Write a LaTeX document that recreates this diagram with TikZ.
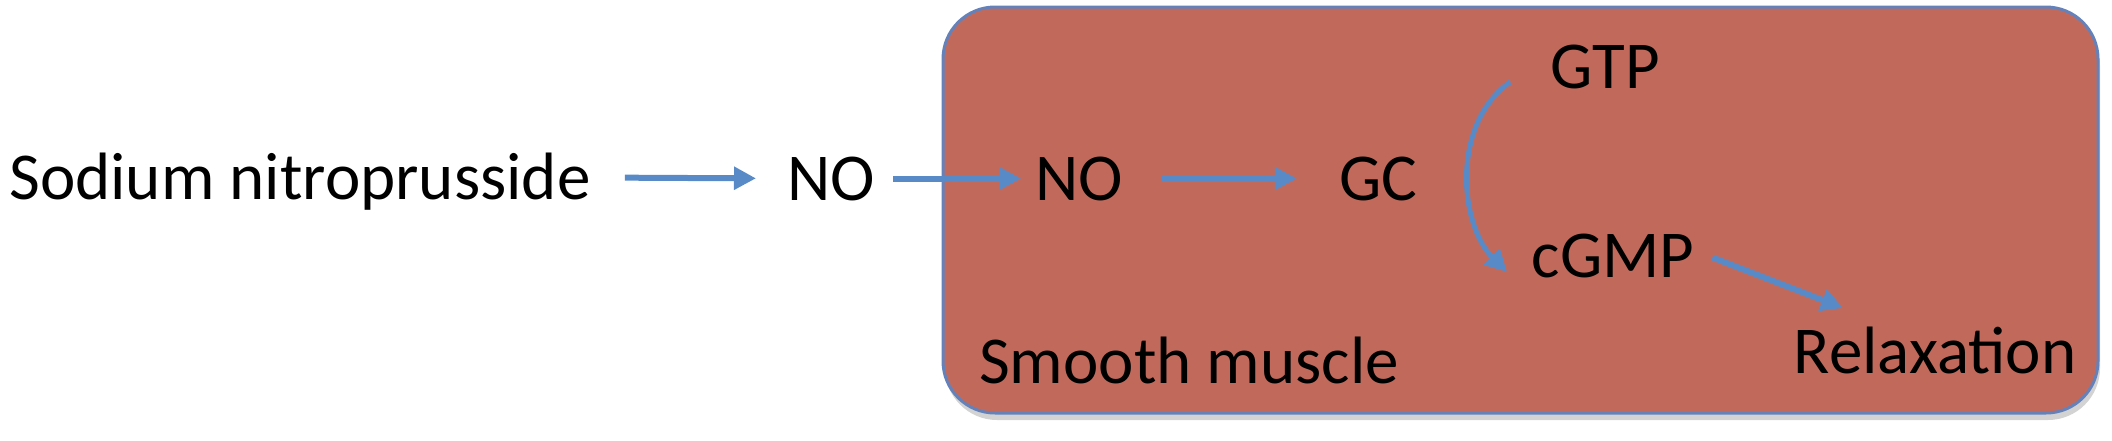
\documentclass[tikz,border=0pt]{standalone}
\usepackage{fontspec}
\setmainfont{Carlito}
\usetikzlibrary{arrows.meta,shadows,calc}
\definecolor{boxfill}{RGB}{193,106,91}
\definecolor{boxline}{RGB}{100,130,185}
\definecolor{arr}{RGB}{88,138,200}
\begin{document}
\begin{tikzpicture}[x=1pt,y=-1pt,
  lbl/.style={font=\fontsize{67pt}{80pt}\selectfont, inner sep=0pt, text height=43pt, text depth=0pt, anchor=base},
  flow/.style={draw=arr, line width=6pt, -{Triangle[length=22pt,width=22pt]}},
  cellbox/.style={fill=boxfill, draw=boxline, line width=3pt, rounded corners=52pt, inner sep=0pt,
    drop shadow={shadow xshift=2pt, shadow yshift=-7pt, opacity=0.35}}]
\useasboundingbox (0,0) rectangle (2112,440);
\node[cellbox, minimum width=1155pt, minimum height=406pt] (cell) at (1520.5,210) {};
\node[lbl] (sn) at (300,199) {Sodium nitroprusside};
\node[lbl] (no1) at (831,200) {NO};
\node[lbl] (no2) at (1079,200) {NO};
\node[lbl] (gc) at (1378,200) {GC};
\node[lbl] (gtp) at (1605,88) {GTP};
\node[lbl] (cgmp) at (1613,277) {cGMP};
\node[lbl] (rel) at (1935,373) {Relaxation};
\node[lbl] (sm) at (1189,383) {Smooth muscle};
\draw[flow, shorten <=34pt, shorten >=31pt] (sn.east) -- (no1.west);
\draw[flow, shorten <=18pt, shorten >=14pt] (no1.east) -- (no2.west);
\draw[flow, shorten <=39pt, shorten >=42pt] (no2.east) -- (gc.west);
\coordinate (arcstart) at (1510,82);
\coordinate (arcend) at (1507,272);
\draw[flow, line width=5pt] (arcstart) .. controls (1450,125) and (1460,225) .. (arcend);
\coordinate (cgout) at ($(cgmp.east)+(18,2)$);
\coordinate (relin) at (1843,308);
\draw[flow] (cgout) -- (relin);
\end{tikzpicture}
\end{document}
